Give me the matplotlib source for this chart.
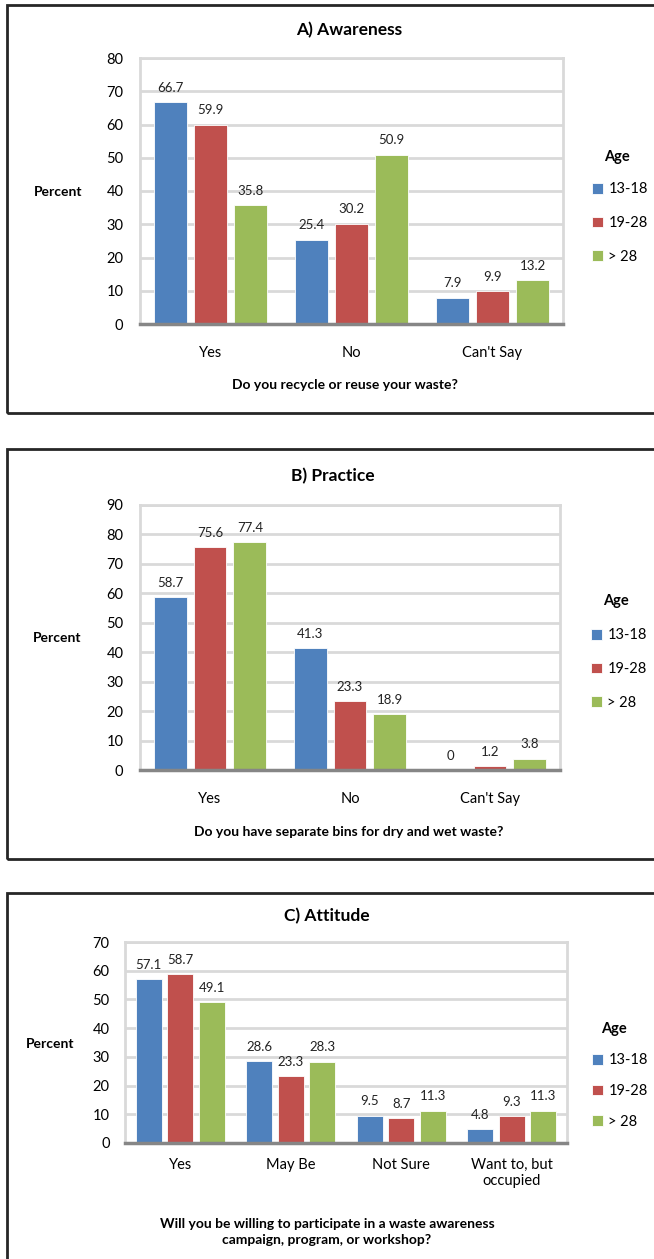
import matplotlib
matplotlib.use("Agg")
import matplotlib.pyplot as plt
from matplotlib.patches import Rectangle
import numpy as np

plt.rcParams["font.family"] = ["Lato", "DejaVu Sans"]

W, H = 654, 1259

# data
ages = ["13-18", "19-28", "> 28"]
colors = ["#4F81BD", "#C0504D", "#9BBB59"]

cats_a = ["Yes", "No", "Can't Say"]
a_1318 = [66.7, 25.4, 7.9]
a_1928 = [59.9, 30.2, 9.9]
a_28 = [35.8, 50.9, 13.2]

cats_b = ["Yes", "No", "Can't Say"]
b_1318 = [58.7, 41.3, 0]
b_1928 = [75.6, 23.3, 1.2]
b_28 = [77.4, 18.9, 3.8]

cats_c = ["Yes", "May Be", "Not Sure", "Want to, but\noccupied"]
c_1318 = [57.1, 28.6, 9.5, 4.8]
c_1928 = [58.7, 23.3, 8.7, 9.3]
c_28 = [49.1, 28.3, 11.3, 11.3]

fig = plt.figure(figsize=(W / 100, H / 100), dpi=100)


def fx(x):
    return x / W


def fy(y):
    return 1 - y / H


def panel(box, rect, cats, series, ymax, title, title_xy, xlabel, xlabel_xy,
          pct_xy, age_xy, leg_xy, ytick_pad, xtick_pad, spacing):
    # panel frame
    fig.add_artist(Rectangle((fx(box[0]), fy(box[2])), fx(700), box[2] / H - box[1] / H,
                             transform=fig.transFigure, fill=False,
                             edgecolor="#262626", lw=2, clip_on=False))
    l, t, r, b = rect
    ax = fig.add_axes([fx(l), fy(b), fx(r - l), (b - t) / H])
    x = np.arange(len(cats))
    w = 0.235
    step = 0.285
    for i, vals in enumerate(series):
        bars = ax.bar(x + (i - 1) * step, vals, w, color=colors[i],
                      edgecolor="white", linewidth=0.6, label=ages[i], zorder=3)
        ax.bar_label(bars, labels=[f"{v:g}" for v in vals], padding=6,
                     fontsize=9.5, color="#222222")
    ax.set_xlim(-0.5, len(cats) - 0.5)
    ax.set_ylim(0, ymax)
    ax.set_yticks(np.arange(0, ymax + 1, 10))
    ax.set_xticks(x)
    ax.set_xticklabels(cats)
    ax.tick_params(axis="y", length=0, pad=ytick_pad, labelsize=10.5)
    ax.tick_params(axis="x", length=0, pad=xtick_pad, labelsize=10.5)
    ax.yaxis.grid(True, color="#D9D9D9", lw=2, zorder=0)
    ax.set_axisbelow(True)
    for s in ["left", "top", "right"]:
        ax.spines[s].set_color("#D9D9D9")
        ax.spines[s].set_linewidth(2)
    ax.spines["bottom"].set_color("#868686")
    ax.spines["bottom"].set_linewidth(2.5)
    ax.spines["bottom"].set_zorder(4)

    fig.text(fx(title_xy[0]), fy(title_xy[1]), title, ha="center", va="center",
             fontsize=12.5, fontweight="bold")
    fig.text(fx(xlabel_xy[0]), fy(xlabel_xy[1]), xlabel, ha="center", va="center",
             fontsize=10, fontweight="bold", linespacing=1.45)
    fig.text(fx(pct_xy[0]), fy(pct_xy[1]), "Percent", ha="center", va="center",
             fontsize=10, fontweight="bold")
    fig.text(fx(age_xy[0]), fy(age_xy[1]), "Age", ha="center", va="center",
             fontsize=10.5, fontweight="bold")
    ax.legend(loc="upper left", bbox_to_anchor=(fx(leg_xy[0]), fy(leg_xy[1])),
              bbox_transform=fig.transFigure, frameon=False,
              fontsize=10.5, handlelength=0.75, handleheight=0.75,
              handletextpad=0.35, labelspacing=spacing, borderpad=0)
    return ax


panel((7, 5, 413), (140, 58, 563, 324), cats_a, [a_1318, a_1928, a_28], 80,
      "A) Awareness", (349, 30), "Do you recycle or reuse your waste?", (345, 385),
      (58, 192), (617, 157), (585, 175), 12, 16, 1.35)

panel((7, 449, 859), (140, 505, 560, 770), cats_b, [b_1318, b_1928, b_28], 90,
      "B) Practice", (333, 476), "Do you have separate bins for dry and wet waste?",
      (349, 832), (57, 638), (616, 601), (584, 621), 12, 16, 1.35)

panel((7, 893, 1300), (125, 942, 567, 1143), cats_c, [c_1318, c_1928, c_28], 70,
      "C) Attitude", (327, 916),
      "Will you be willing to participate in a waste awareness\ncampaign, program, or workshop?",
      (327, 1232), (50, 1044), (614, 1029), (585, 1046), 11, 11, 1.15)

fig.savefig("out.png", dpi=100, facecolor="white")
